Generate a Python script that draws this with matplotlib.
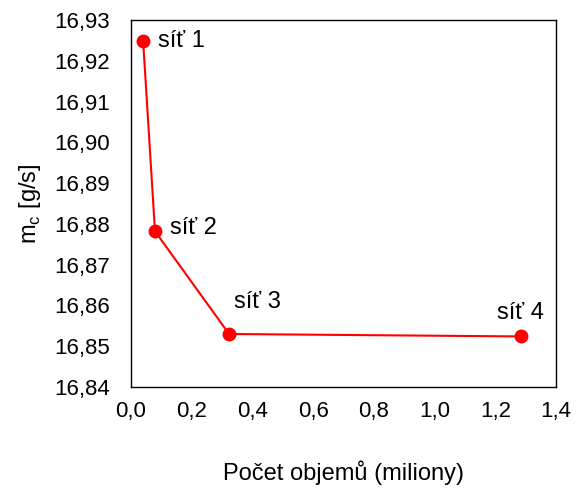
import matplotlib
matplotlib.use("Agg")
import matplotlib.pyplot as plt
from matplotlib.ticker import FuncFormatter, MultipleLocator

plt.rcParams["font.family"] = ["Liberation Sans", "DejaVu Sans"]

cells = [0.040, 0.079, 0.323, 1.284]
mass_flow = [16.9248, 16.8782, 16.8530, 16.8524]
names = ["síť 1", "síť 2", "síť 3", "síť 4"]
RED = "#ff0000"

fig = plt.figure(figsize=(5.76, 4.93), dpi=100)
ax = fig.add_axes([131 / 576, 1 - 387 / 493, 425 / 576, 367 / 493])
ax.plot(cells, mass_flow, "-o", color=RED, lw=1.5, ms=9)

# label offsets in points
offsets = [(11, 0), (11, 2), (3.5, 23), (-17, 17)]
for x, y, n, (dx, dy) in zip(cells, mass_flow, names, offsets):
    ax.annotate(n, (x, y), textcoords="offset points", xytext=(dx, dy),
                fontsize=17, va="center", ha="left")

ax.set_xlim(0, 1.4)
ax.set_ylim(16.84, 16.93)
ax.xaxis.set_major_locator(MultipleLocator(0.2))
ax.yaxis.set_major_locator(MultipleLocator(0.01))
ax.xaxis.set_major_formatter(FuncFormatter(lambda v, p: f"{v:.1f}".replace(".", ",")))
ax.yaxis.set_major_formatter(FuncFormatter(lambda v, p: f"{v:.2f}".replace(".", ",")))
ax.tick_params(length=0, labelsize=16)
ax.tick_params(axis="y", pad=15)
ax.tick_params(axis="x", pad=10)
for s in ax.spines.values():
    s.set_linewidth(1.0)
ax.set_xlabel("Počet objemů (miliony)", fontsize=17, labelpad=28)
ax.set_ylabel("m$_\\mathregular{c}$ [g/s]", fontsize=17, labelpad=8)

fig.savefig("out.png", dpi=100)
